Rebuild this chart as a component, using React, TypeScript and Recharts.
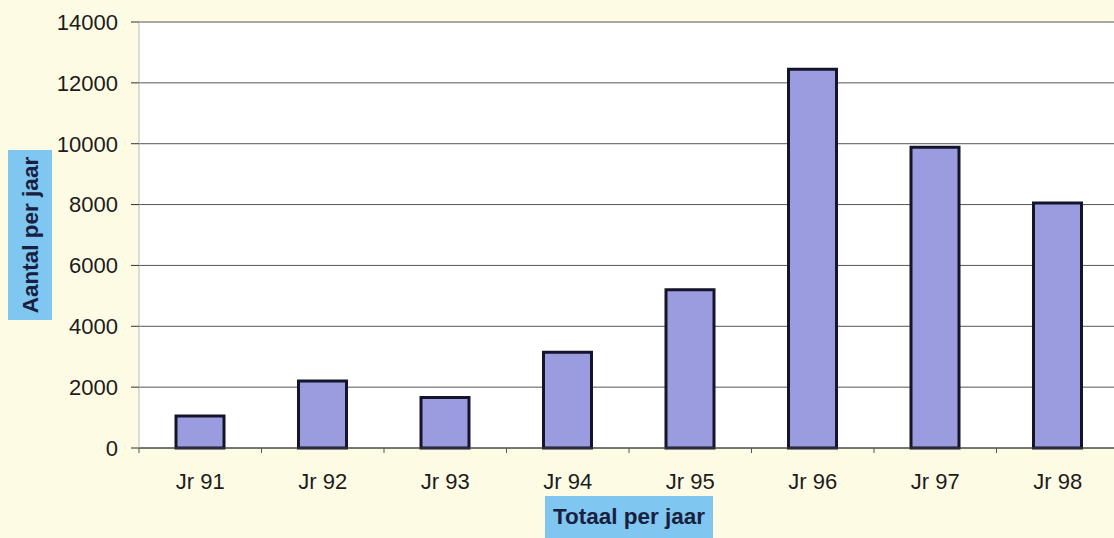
import React from "react";
import { BarChart, Bar, XAxis, YAxis, CartesianGrid, Label } from "recharts";

const categories = ["Jr 91", "Jr 92", "Jr 93", "Jr 94", "Jr 95", "Jr 96", "Jr 97", "Jr 98"];
const totals = [1050, 2200, 1660, 3150, 5200, 12450, 9880, 8050];
const yTicks = [0, 2000, 4000, 6000, 8000, 10000, 12000, 14000];
const yTitle = "Aantal per jaar";
const xTitle = "Totaal per jaar";

const data = categories.map((c, i) => ({ name: c, value: totals[i] }));

const FONT = "'Liberation Sans', Arial, sans-serif";

const XTick = (props: any) => {
  const { x, y, payload } = props;
  const off = payload && typeof payload.offset === "number" ? payload.offset : 61.25;
  return (
    <g>
      <line x1={x - off} y1={y} x2={x - off} y2={y + 5} stroke="#555" strokeWidth={1} />
      <text x={x} y={y + 25} dy="0.71em" textAnchor="middle" fontSize={22} fontFamily={FONT} fill="#1c1c1c">
        {payload.value}
      </text>
    </g>
  );
};

const YTitle = () => (
  <g>
    <rect x={8} y={150} width={44} height={170} fill="#7fc7f1" />
    <text
      x={38}
      y={235}
      transform="rotate(-90 38 235)"
      textAnchor="middle"
      fontSize={22.5}
      fontWeight="bold"
      fontFamily={FONT}
      fill="#182040"
    >
      {yTitle}
    </text>
  </g>
);

const XTitle = () => (
  <g>
    <rect x={545} y={496} width={168} height={42} fill="#7fc7f1" />
    <text
      x={629}
      y={524}
      textAnchor="middle"
      fontSize={22.5}
      fontWeight="bold"
      fontFamily={FONT}
      fill="#182040"
    >
      {xTitle}
    </text>
  </g>
);

export default function App() {
  return (
    <div
      style={{
        position: "fixed",
        left: 0,
        top: 0,
        width: 1114,
        height: 538,
        overflow: "hidden",
        background: "#fefbe4",
      }}
    >
      <BarChart
        width={1130}
        height={538}
        data={data}
        margin={{ top: 22, right: 11, left: 0, bottom: 50 }}
        barSize={48}
      >
        <CartesianGrid vertical={false} stroke="#555" fill="#ffffff" />
        <XAxis
          dataKey="name"
          height={40}
          tickLine={false}
          tickSize={0}
          tickMargin={0}
          axisLine={{ stroke: "#444" }}
          tick={<XTick />}
          interval={0}
        >
          <Label content={<XTitle />} />
        </XAxis>
        <YAxis
          width={139}
          domain={[0, 14000]}
          ticks={yTicks}
          tickSize={8}
          tickMargin={13}
          tickLine={{ stroke: "#333" }}
          axisLine={{ stroke: "#bbb" }}
          tick={{ fontSize: 22, fontFamily: FONT, fill: "#1c1c1c" }}
          interval={0}
        >
          <Label content={<YTitle />} />
        </YAxis>
        <Bar dataKey="value" fill="#9b9be0" stroke="#14142a" strokeWidth={3} isAnimationActive={false} />
      </BarChart>
    </div>
  );
}
